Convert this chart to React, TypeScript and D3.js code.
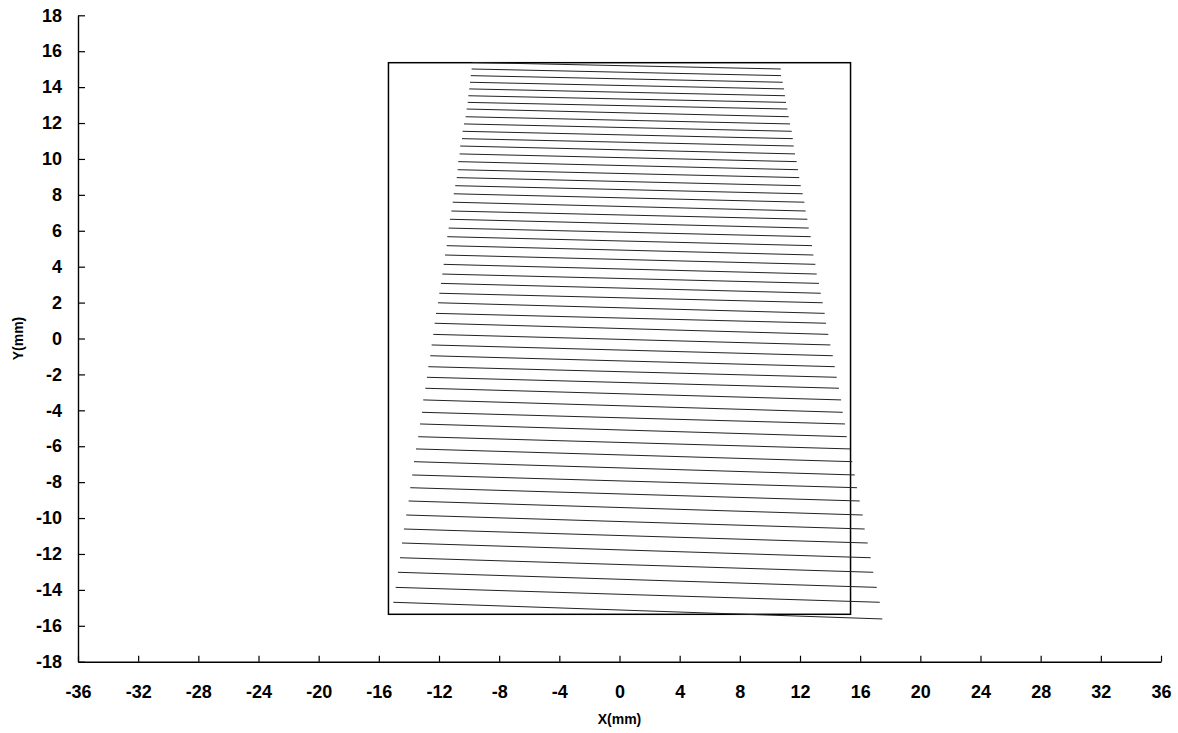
import React, { useEffect, useRef } from "react";
import * as d3 from "d3";

// tick values for both axes
const xTicks = [-36, -32, -28, -24, -20, -16, -12, -8, -4, 0, 4, 8, 12, 16, 20, 24, 28, 32, 36];
const yTicks = [-18, -16, -14, -12, -10, -8, -6, -4, -2, 0, 2, 4, 6, 8, 10, 12, 14, 16, 18];

// half width of the square frame (mm)
const frameHalf = 15.36;

// y of each scan row (mm); line k runs from rowY[k] at its left end to rowY[k+1] at its right end
const rowY = [
  15.37, 15.01, 14.64, 14.27, 13.9, 13.52, 13.15, 12.78, 12.35, 11.95, 11.54, 11.13, 10.72, 10.28,
  9.85, 9.4, 8.96, 8.51, 8.06, 7.59, 7.1, 6.64, 6.15, 5.67, 5.17, 4.65, 4.13, 3.59, 3.07, 2.52,
  1.99, 1.4, 0.85, 0.23, -0.36, -0.96, -1.57, -2.16, -2.77, -3.42, -4.11, -4.76, -5.47, -6.15,
  -6.86, -7.6, -8.31, -9.05, -9.83, -10.61, -11.39, -12.21, -13.02, -13.86, -14.69, -15.62
];

// x of the left end of each line (mm)
const leftX = [
  -9.77, -9.83, -9.89, -9.94, -9.99, -10.05, -10.09, -10.16, -10.23, -10.34, -10.43, -10.47,
  -10.59, -10.63, -10.72, -10.76, -10.82, -10.92, -11.02, -11.09, -11.18, -11.27, -11.36, -11.45,
  -11.49, -11.6, -11.69, -11.78, -11.87, -11.98, -12.07, -12.2, -12.29, -12.38, -12.49, -12.58,
  -12.71, -12.8, -12.91, -13.05, -13.13, -13.26, -13.38, -13.53, -13.66, -13.78, -13.91, -14.02,
  -14.18, -14.33, -14.46, -14.59, -14.73, -14.88, -15.04
];

// x of the right end of each line (mm)
const rightX = [
  10.72, 10.74, 10.85, 10.94, 11.0, 11.07, 11.16, 11.25, 11.34, 11.45, 11.52, 11.58, 11.67, 11.78,
  11.87, 11.95, 12.05, 12.18, 12.29, 12.38, 12.49, 12.58, 12.71, 12.8, 12.89, 13.02, 13.11, 13.26,
  13.38, 13.51, 13.64, 13.73, 13.88, 14.02, 14.18, 14.31, 14.44, 14.59, 14.73, 14.84, 14.99, 15.11,
  15.33, 15.48, 15.64, 15.79, 15.97, 16.17, 16.3, 16.5, 16.7, 16.87, 17.1, 17.3, 17.47
];

const W = 1178;
const H = 733;
const margin = { top: 15.3, right: 17, bottom: 71.3, left: 78 };
const font = "'Liberation Sans', Arial, sans-serif";

const App = () => {
  const xAxisRef = useRef<SVGGElement>(null);
  const yAxisRef = useRef<SVGGElement>(null);

  const x = d3.scaleLinear().domain([-36, 36]).range([margin.left, W - margin.right]);
  const y = d3.scaleLinear().domain([-18, 18]).range([H - margin.bottom, margin.top]);

  useEffect(() => {
    const styleAxis = (g: any) => {
      g.select(".domain").attr("stroke", "#000").attr("stroke-width", 1.4);
      g.selectAll(".tick line").attr("stroke", "#000").attr("stroke-width", 1.2);
      g.selectAll(".tick text")
        .attr("fill", "#000")
        .attr("font-family", font)
        .attr("font-weight", "bold")
        .attr("font-size", 18);
    };

    // plain hyphen for negatives, like the original
    const fmt = (d: any) => String(d);

    d3.select(xAxisRef.current!)
      .call(d3.axisBottom(x).tickValues(xTicks).tickSize(-6).tickSizeOuter(0).tickPadding(24).tickFormat(fmt) as any)
      .call(styleAxis);

    d3.select(yAxisRef.current!)
      .call(d3.axisLeft(y).tickValues(yTicks).tickSize(-7).tickSizeOuter(0).tickPadding(16).tickFormat(fmt) as any)
      .call(styleAxis);
  }, []);

  const lines = leftX.map((lx, k) => ({ x1: lx, y1: rowY[k], x2: rightX[k], y2: rowY[k + 1] }));

  return (
    <svg width={W} height={H} style={{ position: "absolute", left: 0, top: 0, background: "#fff" }}>
      <rect
        x={x(-frameHalf)}
        y={y(frameHalf)}
        width={x(frameHalf) - x(-frameHalf)}
        height={y(-frameHalf) - y(frameHalf)}
        fill="none"
        stroke="#000"
        strokeWidth={1.5}
      />
      <g>
        {lines.map((d, i) => (
          <line
            key={i}
            x1={x(d.x1)}
            y1={y(d.y1)}
            x2={x(d.x2)}
            y2={y(d.y2)}
            stroke="#222"
            strokeWidth={1}
          />
        ))}
      </g>
      <g ref={xAxisRef} transform={`translate(0,${H - margin.bottom})`} />
      <g ref={yAxisRef} transform={`translate(${margin.left},0)`} />
      <text
        x={(margin.left + W - margin.right) / 2}
        y={724}
        textAnchor="middle"
        fontFamily={font}
        fontWeight="bold"
        fontSize={14}
      >
        X(mm)
      </text>
      <text
        transform={`translate(23,${(margin.top + H - margin.bottom) / 2}) rotate(-90)`}
        textAnchor="middle"
        fontFamily={font}
        fontWeight="bold"
        fontSize={14}
      >
        Y(mm)
      </text>
    </svg>
  );
};

export default App;
